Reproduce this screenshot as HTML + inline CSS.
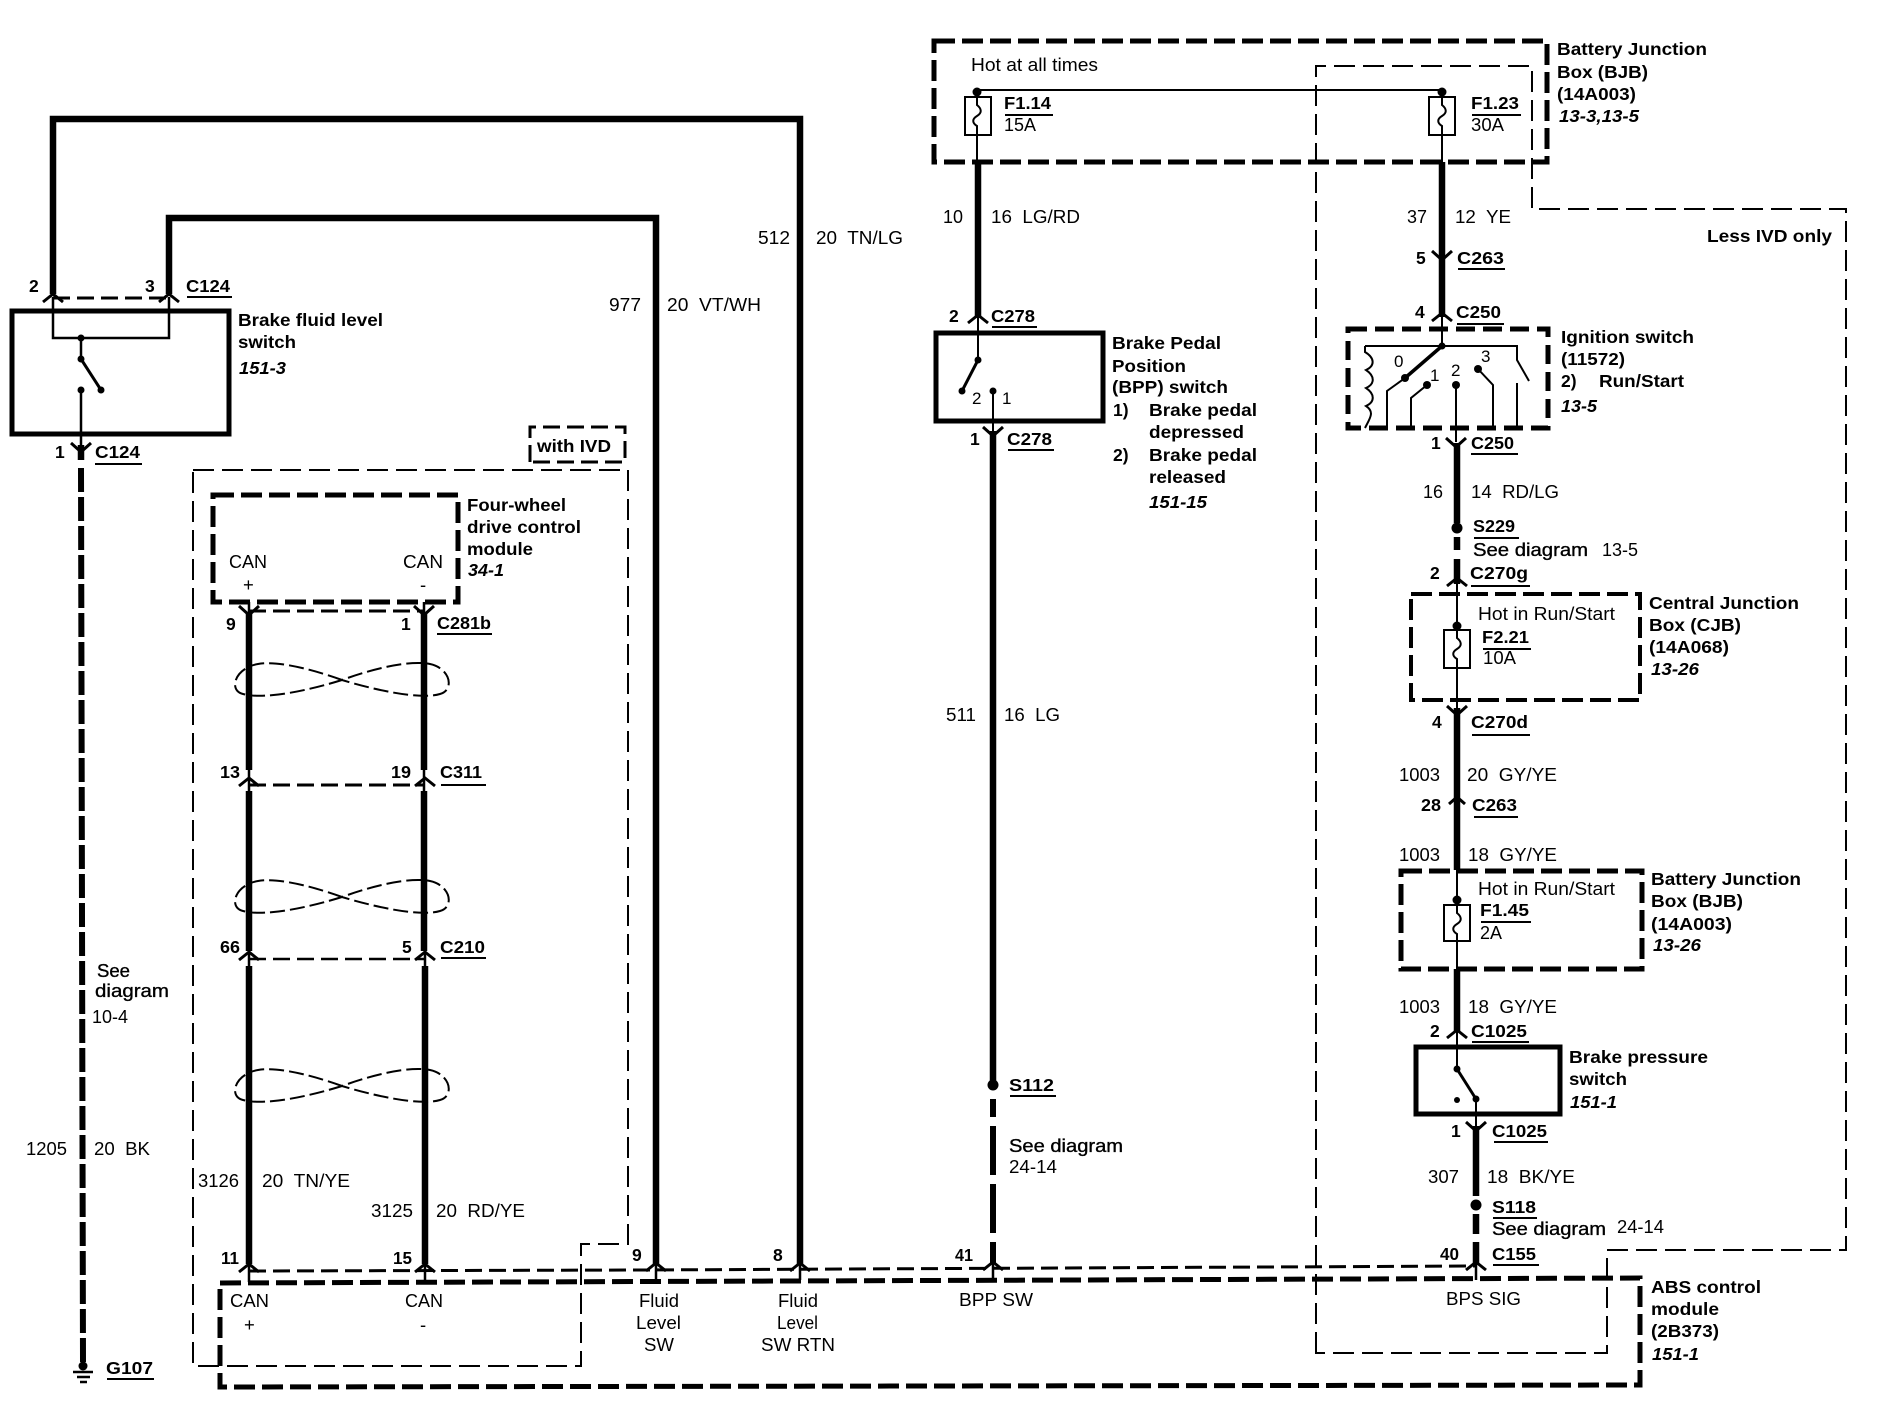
<!DOCTYPE html>
<html><head><meta charset="utf-8"><title>Brake wiring diagram</title>
<style>
html,body{margin:0;padding:0;background:#fff}
svg{display:block}
text{font-family:"Liberation Sans",sans-serif;fill:#000;white-space:pre;transform:translate(-1px,-1px)}
.n{font-size:18.5px}
.b{font-size:17.5px;font-weight:bold}
.i{font-size:17.5px;font-weight:bold;font-style:italic}
.s{font-size:18px;stroke:#000;stroke-width:.35}
.w{fill:none;stroke:#000;stroke-width:6.5}
.t{fill:none;stroke:#000;stroke-width:2}
.m{fill:none;stroke:#000;stroke-width:2.5}
.dk{fill:none;stroke:#000;stroke-width:5;stroke-dasharray:21 7}
.dm{fill:none;stroke:#000;stroke-width:3;stroke-dasharray:17 7}
.dt{fill:none;stroke:#000;stroke-width:2;stroke-dasharray:21 8}
.dw{fill:none;stroke:#000;stroke-width:6;stroke-dasharray:24 5}
.u{fill:none;stroke:#000;stroke-width:2}
.c{fill:none;stroke:#000;stroke-width:3}
.tw{fill:none;stroke:#000;stroke-width:2;stroke-dasharray:15 5}
</style></head><body>
<svg xmlns="http://www.w3.org/2000/svg" width="1878" height="1408" viewBox="0 0 1878 1408">
<defs>
<path id="up" d="M-10 8L0 0L10 8"/>
<path id="dn" d="M-10 -9L0 0L10 -9"/>
<path id="tw" d="M342 680C320 672 280 660 258 664C235 668 228 690 243 694C265 700 310 690 342 680C375 668 410 660 430 664C450 668 455 690 440 694C420 700 375 690 342 680Z"/>
</defs>
<rect width="1878" height="1408" fill="#fff"/>

<!-- left wires -->
<path class="w" d="M53 294V119H800V1264"/>
<path class="w" d="M169 294V218H656V1264"/>
<path class="dm" d="M53 298H169"/>
<rect x="12" y="311" width="217" height="123" fill="none" stroke="#000" stroke-width="5"/>
<path class="m" d="M53 297V338H169V297M81 338V359M81 390V445"/>
<path fill="none" stroke="#000" stroke-width="3" d="M81 359L101 390"/>
<circle cx="81" cy="338" r="3.5"/><circle cx="81" cy="359" r="3.5"/><circle cx="101" cy="390" r="3.5"/><circle cx="81" cy="390" r="3.5"/>
<use href="#up" x="53" y="294" class="c"/><use href="#up" x="169" y="294" class="c"/>
<use href="#dn" x="81" y="452" class="c"/>
<path class="w" d="M81 445V460"/>
<path class="dw" d="M81 468L83 1362"/>
<circle cx="83" cy="1366" r="4.5"/>
<path d="M73 1372H93M77 1377H90M80 1382H87" stroke="#000" stroke-width="2.5" fill="none"/>

<text class="b" x="30" y="293">2</text><text class="b" x="146" y="293">3</text>
<text class="b" x="187" y="293" textLength="44" lengthAdjust="spacingAndGlyphs">C124</text><path class="u" d="M187 297H232"/>
<text class="b" x="239" y="327" textLength="145" lengthAdjust="spacingAndGlyphs">Brake fluid level</text>
<text class="b" x="239" y="349" textLength="58" lengthAdjust="spacingAndGlyphs">switch</text>
<text class="i" x="240" y="375" textLength="47" lengthAdjust="spacingAndGlyphs">151-3</text>
<text class="b" x="56" y="459">1</text>
<text class="b" x="96" y="459" textLength="45" lengthAdjust="spacingAndGlyphs">C124</text><path class="u" d="M95 464H142"/>

<text class="n" x="610" y="312" textLength="32" lengthAdjust="spacingAndGlyphs">977</text>
<text class="n" x="668" y="312" textLength="94" lengthAdjust="spacingAndGlyphs">20  VT/WH</text>
<text class="n" x="759" y="245" textLength="32" lengthAdjust="spacingAndGlyphs">512</text>
<text class="n" x="817" y="245" textLength="87" lengthAdjust="spacingAndGlyphs">20  TN/LG</text>

<!-- with IVD -->
<path class="dm" d="M530 462V427H625V462H530"/>
<text class="b" x="538" y="453" textLength="74" lengthAdjust="spacingAndGlyphs">with IVD</text>
<path class="dt" d="M193 470H628V1244H581V1366H193Z"/>
<rect x="213" y="495" width="245" height="107" class="dk"/>
<text class="b" x="468" y="512" textLength="99" lengthAdjust="spacingAndGlyphs">Four-wheel</text>
<text class="b" x="468" y="534" textLength="114" lengthAdjust="spacingAndGlyphs">drive control</text>
<text class="b" x="468" y="556" textLength="66" lengthAdjust="spacingAndGlyphs">module</text>
<text class="i" x="469" y="577" textLength="36" lengthAdjust="spacingAndGlyphs">34-1</text>
<text class="n" x="230" y="569" textLength="38" lengthAdjust="spacingAndGlyphs">CAN</text>
<text class="n" x="404" y="569" textLength="40" lengthAdjust="spacingAndGlyphs">CAN</text>
<text class="n" x="244" y="592">+</text><text class="n" x="421" y="592">-</text>

<!-- CAN wires -->
<path class="w" d="M249 612V770M249 791V951M249 966V1264"/>
<path class="w" d="M424 612V770M424 791V951M425 966V1264"/>
<path class="m" d="M249 602V612M424 602V612M249 770V791M424 770V791M249 951V966M425 951V966M249 1264V1282M425 1264V1282"/>
<use href="#dn" x="249" y="615" class="c"/><use href="#dn" x="424" y="615" class="c"/>
<path class="dm" d="M249 611H424"/>
<use href="#up" x="249" y="778" class="c"/><use href="#up" x="425" y="778" class="c"/>
<path class="dm" d="M249 785H425"/>
<use href="#up" x="249" y="952" class="c"/><use href="#up" x="425" y="952" class="c"/>
<path class="dm" d="M249 959H425" style="stroke-width:2.5"/>
<use href="#tw" class="tw"/>
<use href="#tw" y="217" class="tw"/>
<use href="#tw" y="406" class="tw"/>
<text class="b" x="227" y="631">9</text><text class="b" x="402" y="631">1</text>
<text class="b" x="438" y="630" textLength="54" lengthAdjust="spacingAndGlyphs">C281b</text><path class="u" d="M437 634H492"/>
<text class="b" x="221" y="779" textLength="20" lengthAdjust="spacingAndGlyphs">13</text>
<text class="b" x="392" y="779" textLength="20" lengthAdjust="spacingAndGlyphs">19</text>
<text class="b" x="441" y="779" textLength="42" lengthAdjust="spacingAndGlyphs">C311</text><path class="u" d="M441 785H486"/>
<text class="b" x="221" y="954" textLength="20" lengthAdjust="spacingAndGlyphs">66</text>
<text class="b" x="403" y="954">5</text>
<text class="b" x="441" y="954" textLength="45" lengthAdjust="spacingAndGlyphs">C210</text><path class="u" d="M441 958H486"/>
<text class="s" x="98" y="978" textLength="33" lengthAdjust="spacingAndGlyphs">See</text>
<text class="s" x="96" y="998" textLength="74" lengthAdjust="spacingAndGlyphs">diagram</text>
<text class="n" x="93" y="1024" textLength="36" lengthAdjust="spacingAndGlyphs">10-4</text>
<text class="n" x="27" y="1156" textLength="41" lengthAdjust="spacingAndGlyphs">1205</text>
<text class="n" x="95" y="1156" textLength="56" lengthAdjust="spacingAndGlyphs">20  BK</text>
<text class="n" x="199" y="1188" textLength="41" lengthAdjust="spacingAndGlyphs">3126</text>
<text class="n" x="263" y="1188" textLength="88" lengthAdjust="spacingAndGlyphs">20  TN/YE</text>
<text class="n" x="372" y="1218" textLength="42" lengthAdjust="spacingAndGlyphs">3125</text>
<text class="n" x="437" y="1218" textLength="89" lengthAdjust="spacingAndGlyphs">20  RD/YE</text>
<text class="b" x="222" y="1265" textLength="18" lengthAdjust="spacingAndGlyphs">11</text>
<text class="b" x="394" y="1265" textLength="19" lengthAdjust="spacingAndGlyphs">15</text>
<text class="b" x="633" y="1262">9</text><text class="b" x="774" y="1262">8</text>
<text class="b" x="107" y="1375" textLength="47" lengthAdjust="spacingAndGlyphs">G107</text><path class="u" d="M107 1379H154"/>

<!-- connector row & ABS -->
<path class="dm" d="M249 1271L640 1270L1476 1266"/>
<use href="#up" x="249" y="1264" class="c"/><use href="#up" x="425" y="1264" class="c"/>
<use href="#up" x="656" y="1263" class="c"/><use href="#up" x="800" y="1263" class="c"/>
<use href="#up" x="993" y="1262" class="c"/><use href="#up" x="1476" y="1262" class="c"/>
<path class="m" d="M656 1264V1280M800 1264V1280M993 1264V1280M1476 1264V1280"/>
<path class="dk" d="M220 1283L1640 1278V1385L220 1387Z"/>
<text class="n" x="231" y="1308" textLength="39" lengthAdjust="spacingAndGlyphs">CAN</text>
<text class="n" x="245" y="1332">+</text>
<text class="n" x="406" y="1308" textLength="38" lengthAdjust="spacingAndGlyphs">CAN</text>
<text class="n" x="421" y="1332">-</text>
<text class="n" x="640" y="1308" textLength="40" lengthAdjust="spacingAndGlyphs">Fluid</text>
<text class="n" x="637" y="1330" textLength="45" lengthAdjust="spacingAndGlyphs">Level</text>
<text class="n" x="645" y="1352" textLength="30" lengthAdjust="spacingAndGlyphs">SW</text>
<text class="n" x="779" y="1308" textLength="40" lengthAdjust="spacingAndGlyphs">Fluid</text>
<text class="n" x="778" y="1330" textLength="41" lengthAdjust="spacingAndGlyphs">Level</text>
<text class="n" x="762" y="1352" textLength="74" lengthAdjust="spacingAndGlyphs">SW RTN</text>
<text class="n" x="960" y="1307" textLength="74" lengthAdjust="spacingAndGlyphs">BPP SW</text>
<text class="n" x="1447" y="1306" textLength="75" lengthAdjust="spacingAndGlyphs">BPS SIG</text>
<text class="b" x="1652" y="1294" textLength="110" lengthAdjust="spacingAndGlyphs">ABS control</text>
<text class="b" x="1652" y="1316" textLength="68" lengthAdjust="spacingAndGlyphs">module</text>
<text class="b" x="1652" y="1338" textLength="68" lengthAdjust="spacingAndGlyphs">(2B373)</text>
<text class="i" x="1653" y="1361" textLength="47" lengthAdjust="spacingAndGlyphs">151-1</text>

<!-- Less IVD box -->
<path class="dt" d="M1316 1353V66H1532V209H1846V1250H1607V1353Z"/>
<text class="b" x="1708" y="243" textLength="125" lengthAdjust="spacingAndGlyphs">Less IVD only</text>

<!-- BJB top -->
<rect x="934" y="41" width="613" height="121" class="dk"/>
<text class="n" x="972" y="72" textLength="127" lengthAdjust="spacingAndGlyphs">Hot at all times</text>
<path class="t" d="M977 90H1442M977 90V97M1442 90V97M977 135V162M1442 135V162"/>
<circle cx="977" cy="92" r="4.5"/><circle cx="1442" cy="92" r="4.5"/>
<rect x="965" y="97" width="26" height="38" class="t"/>
<rect x="1429" y="97" width="26" height="38" class="t"/>
<path class="t" d="M977 97V105C982 109 982 113 977 116C972 119 972 123 977 126V135"/>
<path class="t" d="M1442 97V105C1447 109 1447 113 1442 116C1437 119 1437 123 1442 126V135"/>
<text class="b" x="1005" y="110" textLength="47" lengthAdjust="spacingAndGlyphs">F1.14</text><path class="u" d="M1005 115H1053"/>
<text class="n" x="1005" y="132" textLength="32" lengthAdjust="spacingAndGlyphs">15A</text>
<text class="b" x="1472" y="110" textLength="48" lengthAdjust="spacingAndGlyphs">F1.23</text><path class="u" d="M1472 115H1521"/>
<text class="n" x="1472" y="132" textLength="33" lengthAdjust="spacingAndGlyphs">30A</text>
<text class="b" x="1558" y="56" textLength="150" lengthAdjust="spacingAndGlyphs">Battery Junction</text>
<text class="b" x="1558" y="79" textLength="91" lengthAdjust="spacingAndGlyphs">Box (BJB)</text>
<text class="b" x="1558" y="101" textLength="79" lengthAdjust="spacingAndGlyphs">(14A003)</text>
<text class="i" x="1560" y="123" textLength="80" lengthAdjust="spacingAndGlyphs">13-3,13-5</text>

<!-- BPP -->
<path class="w" d="M978 162V318M1442 162V317"/>
<text class="n" x="944" y="224" textLength="20" lengthAdjust="spacingAndGlyphs">10</text>
<text class="n" x="992" y="224" textLength="89" lengthAdjust="spacingAndGlyphs">16  LG/RD</text>
<text class="n" x="1408" y="224" textLength="20" lengthAdjust="spacingAndGlyphs">37</text>
<text class="n" x="1456" y="224" textLength="56" lengthAdjust="spacingAndGlyphs">12  YE</text>
<use href="#up" x="978" y="315" class="c"/>
<text class="b" x="950" y="323">2</text>
<text class="b" x="992" y="323" textLength="44" lengthAdjust="spacingAndGlyphs">C278</text><path class="u" d="M992 327H1037"/>
<path d="M936 333H1103V421H936Z" fill="none" stroke="#000" stroke-width="5"/>
<path class="t" d="M978 318V360M993 391V431"/>
<path fill="none" stroke="#000" stroke-width="3" d="M978 360L962 391"/>
<circle cx="978" cy="360" r="3.5"/><circle cx="962" cy="391" r="3.5"/><circle cx="993" cy="391" r="3.5"/>
<text class="n" x="973" y="405" style="font-size:17px">2</text><text class="n" x="1003" y="405" style="font-size:17px">1</text>
<use href="#dn" x="993" y="436" class="c"/>
<text class="b" x="971" y="446">1</text>
<text class="b" x="1008" y="446" textLength="45" lengthAdjust="spacingAndGlyphs">C278</text><path class="u" d="M1008 450H1054"/>
<path class="w" d="M993 431V1085"/>
<text class="n" x="947" y="722" textLength="30" lengthAdjust="spacingAndGlyphs">511</text>
<text class="n" x="1005" y="722" textLength="56" lengthAdjust="spacingAndGlyphs">16  LG</text>
<circle cx="993" cy="1085" r="5.5"/>
<text class="b" x="1010" y="1092" textLength="45" lengthAdjust="spacingAndGlyphs">S112</text><path class="u" d="M1010 1096H1056"/>
<path class="dw" d="M993 1099V1263" style="stroke-dasharray:18 9 49 9 49 9 24 4"/>
<text class="s" x="1010" y="1153" textLength="114" lengthAdjust="spacingAndGlyphs">See diagram</text>
<text class="n" x="1010" y="1174" textLength="48" lengthAdjust="spacingAndGlyphs">24-14</text>
<text class="b" x="956" y="1262" textLength="18" lengthAdjust="spacingAndGlyphs">41</text>
<text class="b" x="1113" y="350" textLength="109" lengthAdjust="spacingAndGlyphs">Brake Pedal</text>
<text class="b" x="1113" y="373" textLength="74" lengthAdjust="spacingAndGlyphs">Position</text>
<text class="b" x="1113" y="394" textLength="116" lengthAdjust="spacingAndGlyphs">(BPP) switch</text>
<text class="b" x="1114" y="417">1)</text>
<text class="b" x="1150" y="417" textLength="108" lengthAdjust="spacingAndGlyphs">Brake pedal</text>
<text class="b" x="1150" y="439" textLength="95" lengthAdjust="spacingAndGlyphs">depressed</text>
<text class="b" x="1114" y="462">2)</text>
<text class="b" x="1150" y="462" textLength="108" lengthAdjust="spacingAndGlyphs">Brake pedal</text>
<text class="b" x="1150" y="484" textLength="77" lengthAdjust="spacingAndGlyphs">released</text>
<text class="i" x="1150" y="509" textLength="58" lengthAdjust="spacingAndGlyphs">151-15</text>

<!-- Right column: C263 / C250 / ignition -->
<use href="#dn" x="1442" y="260" class="c"/>
<text class="b" x="1417" y="265">5</text>
<text class="b" x="1458" y="265" textLength="47" lengthAdjust="spacingAndGlyphs">C263</text><path class="u" d="M1458 269H1505"/>
<use href="#up" x="1442" y="313" class="c"/>
<text class="b" x="1416" y="319">4</text>
<text class="b" x="1457" y="319" textLength="45" lengthAdjust="spacingAndGlyphs">C250</text><path class="u" d="M1457 324H1504"/>
<rect x="1348" y="329" width="200" height="99" class="dk" style="stroke-dasharray:19 8"/>
<path class="t" d="M1442 317V346M1365 346H1517V360L1529 381M1517 383V428M1387 428V391L1405 378M1411 428V398L1427 385M1456 385V442M1493 428V385L1478 369"/>
<path fill="none" stroke="#000" stroke-width="3.5" d="M1442 346L1405 378"/>
<path class="t" d="M1365 346V352C1375 358 1375 366 1366 370C1375 376 1375 384 1366 388C1375 394 1375 402 1366 406C1375 412 1370 418 1365 428"/>
<circle cx="1442" cy="346" r="3.5"/><circle cx="1405" cy="378" r="4"/><circle cx="1427" cy="385" r="4"/><circle cx="1456" cy="385" r="4"/><circle cx="1478" cy="369" r="4"/>
<text class="n" x="1395" y="368" style="font-size:17px">0</text><text class="n" x="1431" y="382" style="font-size:17px">1</text><text class="n" x="1452" y="377" style="font-size:17px">2</text><text class="n" x="1482" y="363" style="font-size:17px">3</text>
<text class="b" x="1562" y="344" textLength="133" lengthAdjust="spacingAndGlyphs">Ignition switch</text>
<text class="b" x="1562" y="366" textLength="64" lengthAdjust="spacingAndGlyphs">(11572)</text>
<text class="b" x="1562" y="388">2)</text>
<text class="b" x="1600" y="388" textLength="85" lengthAdjust="spacingAndGlyphs">Run/Start</text>
<text class="i" x="1562" y="413" textLength="36" lengthAdjust="spacingAndGlyphs">13-5</text>
<use href="#dn" x="1456" y="447" class="c"/>
<text class="b" x="1432" y="450">1</text>
<text class="b" x="1472" y="450" textLength="43" lengthAdjust="spacingAndGlyphs">C250</text><path class="u" d="M1471 454H1518"/>
<path class="w" d="M1457 443V523"/>
<text class="n" x="1424" y="499" textLength="20" lengthAdjust="spacingAndGlyphs">16</text>
<text class="n" x="1472" y="499" textLength="88" lengthAdjust="spacingAndGlyphs">14  RD/LG</text>
<circle cx="1457" cy="528" r="5.5"/>
<text class="b" x="1474" y="533" textLength="42" lengthAdjust="spacingAndGlyphs">S229</text><path class="u" d="M1474 538H1519"/>
<text class="s" x="1474" y="557" textLength="115" lengthAdjust="spacingAndGlyphs">See diagram</text>
<text class="n" x="1603" y="557" textLength="36" lengthAdjust="spacingAndGlyphs">13-5</text>
<path class="w" d="M1457 537V550M1457 559V584"/>
<use href="#up" x="1457" y="578" class="c"/>
<text class="b" x="1431" y="580">2</text>
<text class="b" x="1471" y="580" textLength="58" lengthAdjust="spacingAndGlyphs">C270g</text><path class="u" d="M1471 586H1530"/>

<!-- CJB -->
<rect x="1411" y="594" width="229" height="106" class="dk" style="stroke-width:4"/>
<text class="n" x="1479" y="621" textLength="137" lengthAdjust="spacingAndGlyphs">Hot in Run/Start</text>
<path class="t" d="M1457 584V630M1457 668V711"/>
<circle cx="1457" cy="626" r="4.5"/>
<rect x="1444" y="630" width="26" height="38" class="t"/>
<path class="t" d="M1457 630V638C1462 642 1462 646 1457 649C1452 652 1452 656 1457 659V668"/>
<text class="b" x="1483" y="644" textLength="47" lengthAdjust="spacingAndGlyphs">F2.21</text><path class="u" d="M1483 649H1531"/>
<text class="n" x="1484" y="665" textLength="33" lengthAdjust="spacingAndGlyphs">10A</text>
<text class="b" x="1650" y="610" textLength="150" lengthAdjust="spacingAndGlyphs">Central Junction</text>
<text class="b" x="1650" y="632" textLength="92" lengthAdjust="spacingAndGlyphs">Box (CJB)</text>
<text class="b" x="1650" y="654" textLength="80" lengthAdjust="spacingAndGlyphs">(14A068)</text>
<text class="i" x="1652" y="676" textLength="48" lengthAdjust="spacingAndGlyphs">13-26</text>

<use href="#dn" x="1457" y="715" class="c"/>
<path class="w" d="M1457 708V870"/>
<text class="b" x="1433" y="729">4</text>
<text class="b" x="1472" y="729" textLength="57" lengthAdjust="spacingAndGlyphs">C270d</text><path class="u" d="M1472 735H1530"/>
<text class="n" x="1400" y="782" textLength="41" lengthAdjust="spacingAndGlyphs">1003</text>
<text class="n" x="1468" y="782" textLength="90" lengthAdjust="spacingAndGlyphs">20  GY/YE</text>
<path d="M1449 804L1457 797L1465 804" fill="none" stroke="#000" stroke-width="3"/>
<text class="b" x="1422" y="812" textLength="20" lengthAdjust="spacingAndGlyphs">28</text>
<text class="b" x="1473" y="812" textLength="45" lengthAdjust="spacingAndGlyphs">C263</text><path class="u" d="M1474 817H1518"/>
<text class="n" x="1400" y="862" textLength="41" lengthAdjust="spacingAndGlyphs">1003</text>
<text class="n" x="1469" y="862" textLength="89" lengthAdjust="spacingAndGlyphs">18  GY/YE</text>

<!-- BJB 2 -->
<rect x="1401" y="871" width="241" height="98" class="dk"/>
<text class="n" x="1479" y="896" textLength="137" lengthAdjust="spacingAndGlyphs">Hot in Run/Start</text>
<path class="t" d="M1457 870V905M1457 941V969"/>
<circle cx="1457" cy="900" r="4.5"/>
<rect x="1444" y="905" width="26" height="36" class="t"/>
<path class="t" d="M1457 905V913C1462 917 1462 921 1457 924C1452 927 1452 931 1457 934V941"/>
<text class="b" x="1481" y="917" textLength="49" lengthAdjust="spacingAndGlyphs">F1.45</text><path class="u" d="M1481 922H1531"/>
<text class="n" x="1481" y="940" textLength="22" lengthAdjust="spacingAndGlyphs">2A</text>
<text class="b" x="1652" y="886" textLength="150" lengthAdjust="spacingAndGlyphs">Battery Junction</text>
<text class="b" x="1652" y="908" textLength="92" lengthAdjust="spacingAndGlyphs">Box (BJB)</text>
<text class="b" x="1652" y="931" textLength="81" lengthAdjust="spacingAndGlyphs">(14A003)</text>
<text class="i" x="1654" y="952" textLength="48" lengthAdjust="spacingAndGlyphs">13-26</text>

<path class="w" d="M1457 969V1032"/>
<text class="n" x="1400" y="1014" textLength="41" lengthAdjust="spacingAndGlyphs">1003</text>
<text class="n" x="1469" y="1014" textLength="89" lengthAdjust="spacingAndGlyphs">18  GY/YE</text>
<use href="#up" x="1457" y="1030" class="c"/>
<text class="b" x="1431" y="1038">2</text>
<text class="b" x="1472" y="1038" textLength="56" lengthAdjust="spacingAndGlyphs">C1025</text><path class="u" d="M1472 1042H1529"/>

<!-- Brake pressure switch -->
<rect x="1416" y="1047" width="144" height="67" fill="none" stroke="#000" stroke-width="5"/>
<path class="t" d="M1457 1032V1069M1476 1099V1126"/>
<path fill="none" stroke="#000" stroke-width="3" d="M1457 1069L1476 1099"/>
<circle cx="1457" cy="1069" r="3.5"/><circle cx="1476" cy="1099" r="3.5"/><circle cx="1457" cy="1100" r="3"/>
<text class="b" x="1570" y="1064" textLength="139" lengthAdjust="spacingAndGlyphs">Brake pressure</text>
<text class="b" x="1570" y="1086" textLength="58" lengthAdjust="spacingAndGlyphs">switch</text>
<text class="i" x="1571" y="1109" textLength="47" lengthAdjust="spacingAndGlyphs">151-1</text>
<use href="#dn" x="1476" y="1131" class="c"/>
<path class="w" d="M1476 1126V1196"/>
<text class="b" x="1452" y="1138">1</text>
<text class="b" x="1493" y="1138" textLength="55" lengthAdjust="spacingAndGlyphs">C1025</text><path class="u" d="M1494 1142H1548"/>
<text class="n" x="1429" y="1184" textLength="31" lengthAdjust="spacingAndGlyphs">307</text>
<text class="n" x="1488" y="1184" textLength="88" lengthAdjust="spacingAndGlyphs">18  BK/YE</text>
<circle cx="1476" cy="1205" r="5.5"/>
<text class="b" x="1493" y="1214" textLength="44" lengthAdjust="spacingAndGlyphs">S118</text><path class="u" d="M1493 1218H1537"/>
<path class="w" d="M1476 1214V1234M1476 1242V1265"/>
<text class="s" x="1493" y="1236" textLength="114" lengthAdjust="spacingAndGlyphs">See diagram</text>
<text class="n" x="1618" y="1234" textLength="47" lengthAdjust="spacingAndGlyphs">24-14</text>
<text class="b" x="1441" y="1261" textLength="19" lengthAdjust="spacingAndGlyphs">40</text>
<text class="b" x="1493" y="1261" textLength="44" lengthAdjust="spacingAndGlyphs">C155</text><path class="u" d="M1493 1265H1539"/>
</svg>
</body></html>
